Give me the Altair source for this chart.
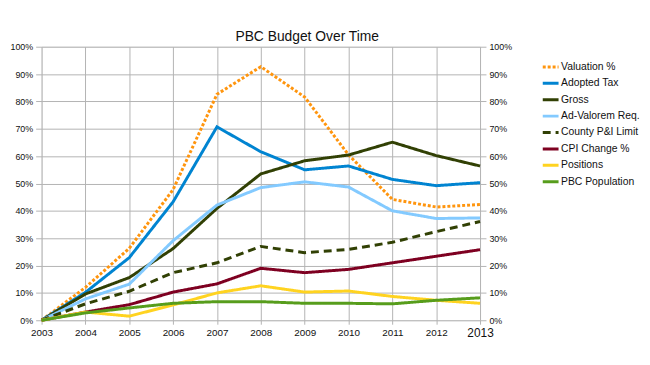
import altair as alt
import pandas as pd

years = [2003, 2004, 2005, 2006, 2007, 2008, 2009, 2010, 2011, 2012, 2013]

series_names = ["Valuation %", "Adopted Tax", "Gross", "Ad-Valorem Req.",
                "County P&I Limit", "CPI Change %", "Positions", "PBC Population"]

valuation = [0, 12, 26.3, 47.8, 82.6, 92.7, 81.6, 60.5, 44.2, 41.4, 42.3]
adopted_tax = [0, 10.2, 22.9, 43.3, 70.7, 61.6, 55.0, 56.4, 51.5, 49.2, 50.3]
gross = [0, 9.6, 15.6, 26.2, 40.9, 53.5, 58.3, 60.4, 65.1, 60.2, 56.4]
ad_valorem = [0, 7.8, 13.2, 29.1, 42.1, 48.5, 50.6, 48.7, 40.0, 37.2, 37.4]
county_pi = [0, 6.0, 10.6, 17.4, 21.0, 27.0, 24.7, 25.9, 28.5, 32.4, 36.1]
cpi = [0, 3.0, 5.7, 10.3, 13.3, 19.0, 17.4, 18.6, 21.0, 23.4, 25.8]
positions = [0, 3.0, 1.5, 5.6, 10.0, 12.6, 10.3, 10.7, 8.7, 7.3, 6.2]
population = [0, 2.7, 4.5, 6.2, 6.8, 6.8, 6.2, 6.2, 6.0, 7.3, 8.2]

colors = ["#ff950e", "#0084d1", "#314004", "#83caff",
          "#314004", "#7e0021", "#ffd320", "#579d1c"]
dashes = [[3, 2], [1, 0], [1, 0], [1, 0], [8, 5], [1, 0], [1, 0], [1, 0]]

all_values = [valuation, adopted_tax, gross, ad_valorem, county_pi, cpi, positions, population]
rows = []
for si, (name, vals) in enumerate(zip(series_names, all_values)):
    for y, v in zip(years, vals):
        rows.append({"year": y, "value": v / 100.0, "series": name, "idx": si})
df = pd.DataFrame(rows)

x_scale = alt.Scale(domain=[2003, 2013], nice=False)
x_enc = alt.X("year:Q", scale=x_scale,
              axis=alt.Axis(values=years, format="d", title=None, grid=True,
                            gridColor="#b3b3b3", tickColor="#b3b3b3", tickSize=4,
                            domain=False, labelFlush=False,
                            labelFontSize={"condition": {"test": "datum.value == 2013", "value": 12},
                                           "value": 10},
                            labelColor="#111", labelPadding=3, labelFont="Liberation Sans"))

y_scale = alt.Scale(domain=[0, 1], nice=False)
y_vals = [i / 10 for i in range(11)]

lines = alt.Chart(df).mark_line(strokeWidth=3, strokeCap="butt", strokeJoin="miter").encode(
    x=x_enc,
    y=alt.Y("value:Q", scale=y_scale,
            axis=alt.Axis(values=y_vals, format=".0%", title=None, grid=True,
                          gridColor="#b3b3b3", tickColor="#b3b3b3", tickSize=6,
                          domain=False, labelFontSize=9, labelColor="#111",
                          labelPadding=3, labelFont="Liberation Sans")),
    color=alt.Color("series:N", scale=alt.Scale(domain=series_names, range=colors),
                    sort=series_names,
                    legend=alt.Legend(title=None, orient="none", legendX=506, legendY=11,
                                      symbolType="stroke", symbolSize=256,
                                      symbolStrokeWidth=3, rowPadding=0.6,
                                      labelFontSize=10.5, labelFont="Liberation Sans",
                                      labelColor="#111", labelOffset=1, labelLimit=200)),
    strokeDash=alt.StrokeDash("series:N", scale=alt.Scale(domain=series_names, range=dashes),
                              sort=series_names, legend=alt.Legend(title=None)),
    order="idx:Q",
)

right = alt.Chart(df).mark_line(opacity=0).encode(
    x=alt.X("year:Q", scale=x_scale),
    y=alt.Y("value:Q", scale=y_scale,
            axis=alt.Axis(values=y_vals, format=".0%", title=None, grid=False, orient="right",
                          tickColor="#b3b3b3", tickSize=6, domain=False,
                          labelFontSize=9, labelColor="#111", labelPadding=3,
                          labelFont="Liberation Sans")),
    detail="series:N",
)

chart = alt.layer(lines, right).resolve_scale(y="independent").properties(
    width=444, height=277,
    autosize=alt.AutoSizeParams(type="none"),
    padding={"left": 34, "top": 37, "right": 164, "bottom": 35},
    title=alt.TitleParams("PBC Budget Over Time", fontSize=14, fontWeight="normal",
                          font="Liberation Sans", color="#111", offset=4, dx=47, dy=5),
).configure_view(stroke=None).configure(background="white")

chart.save("out.html", embed_options={"renderer": "svg", "actions": False})
